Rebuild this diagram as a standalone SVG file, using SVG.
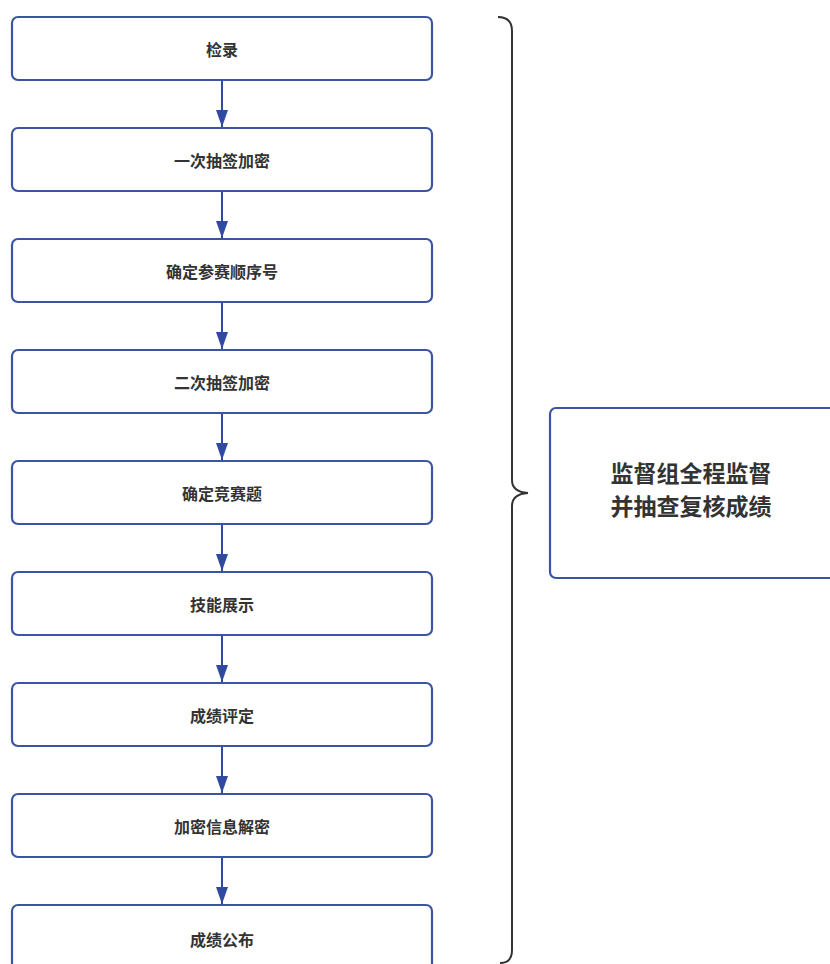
<svg xmlns="http://www.w3.org/2000/svg" width="830" height="964" viewBox="0 0 830 964">
<style>
.box{fill:#fff;stroke:#3b55a3;stroke-width:2.2}
.lbl{font-family:"Noto Sans CJK SC","Noto Sans",sans-serif;font-size:16px;font-weight:bold;fill:#333;text-anchor:middle;dominant-baseline:central}
.big{font-family:"Noto Sans CJK SC","Noto Sans",sans-serif;font-size:23px;font-weight:bold;fill:#333;text-anchor:middle}
.conn{stroke:#2f4aa0;stroke-width:2;fill:none}
.brace{stroke:#333;stroke-width:2;fill:none}
</style>
<defs>
<marker id="ah" markerWidth="18" markerHeight="12" refX="17" refY="6" orient="auto" markerUnits="userSpaceOnUse" viewBox="0 0 18 12">
<path d="M0,0 L17,6 L0,12 Z" fill="#2f4aa0"/>
</marker>
</defs>
<rect width="830" height="964" fill="#fff"/>
<g id="n1"><rect class="box" x="12" y="17" width="420" height="63" rx="6"/><text class="lbl" x="222" y="49">检录</text></g>
<g id="n2"><rect class="box" x="12" y="128" width="420" height="63" rx="6"/><text class="lbl" x="222" y="160">一次抽签加密</text></g>
<g id="n3"><rect class="box" x="12" y="239" width="420" height="63" rx="6"/><text class="lbl" x="222" y="271">确定参赛顺序号</text></g>
<g id="n4"><rect class="box" x="12" y="350" width="420" height="63" rx="6"/><text class="lbl" x="222" y="382">二次抽签加密</text></g>
<g id="n5"><rect class="box" x="12" y="461" width="420" height="63" rx="6"/><text class="lbl" x="222" y="493">确定竞赛题</text></g>
<g id="n6"><rect class="box" x="12" y="572" width="420" height="63" rx="6"/><text class="lbl" x="222" y="604">技能展示</text></g>
<g id="n7"><rect class="box" x="12" y="683" width="420" height="63" rx="6"/><text class="lbl" x="222" y="715">成绩评定</text></g>
<g id="n8"><rect class="box" x="12" y="794" width="420" height="63" rx="6"/><text class="lbl" x="222" y="826">加密信息解密</text></g>
<g id="n9"><rect class="box" x="12" y="905" width="420" height="70" rx="6"/><text class="lbl" x="222" y="939">成绩公布</text></g>
<g id="n10"><rect class="box" x="550" y="408" width="300" height="170" rx="6"/><text class="big" x="691" y="482">监督组全程监督</text><text class="big" x="691" y="515">并抽查复核成绩</text></g>
<g id="connectors">
<line class="conn" x1="222" y1="81" x2="222" y2="127" marker-end="url(#ah)"/>
<line class="conn" x1="222" y1="192" x2="222" y2="238" marker-end="url(#ah)"/>
<line class="conn" x1="222" y1="303" x2="222" y2="349" marker-end="url(#ah)"/>
<line class="conn" x1="222" y1="414" x2="222" y2="460" marker-end="url(#ah)"/>
<line class="conn" x1="222" y1="525" x2="222" y2="571" marker-end="url(#ah)"/>
<line class="conn" x1="222" y1="636" x2="222" y2="682" marker-end="url(#ah)"/>
<line class="conn" x1="222" y1="747" x2="222" y2="793" marker-end="url(#ah)"/>
<line class="conn" x1="222" y1="858" x2="222" y2="904" marker-end="url(#ah)"/>
<path class="brace" d="M498,17 Q512,17 512,31 L512,480 Q512,492 528,493 Q512,494 512,506 L512,950 Q512,963 500,963"/>
</g>
</svg>
